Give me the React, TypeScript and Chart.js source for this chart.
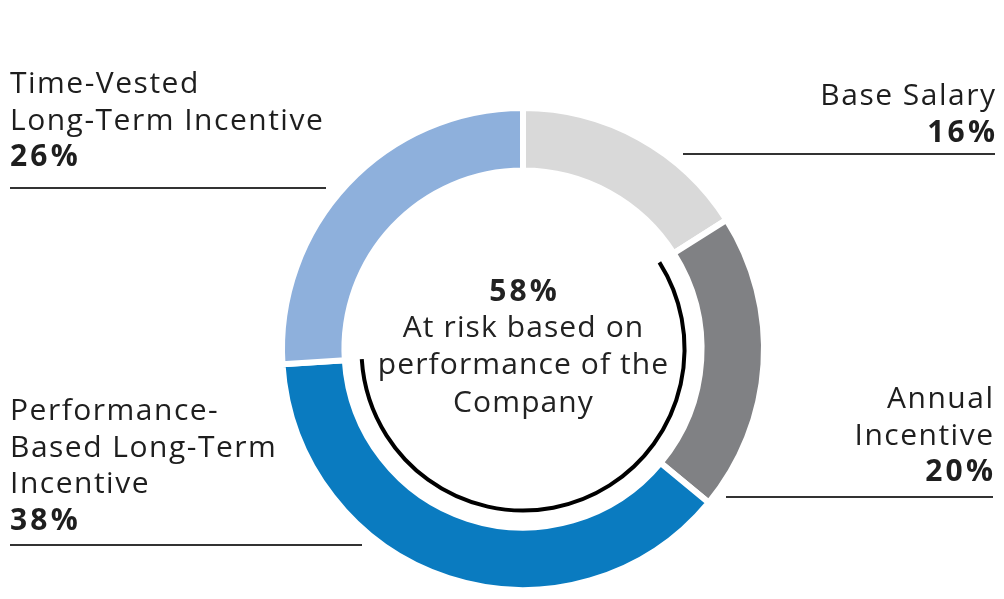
import React, { useEffect, useRef } from "react";
import { Chart, registerables } from "chart.js";
Chart.register(...registerables);

const categories = [
  "Base Salary",
  "Annual Incentive",
  "Performance-Based Long-Term Incentive",
  "Time-Vested Long-Term Incentive",
];
const values = [16, 20, 38, 26];
const colors = ["#d9d9d9", "#808184", "#0a7bc0", "#8eb0dc"];
const labelLines = [
  ["Base Salary"],
  ["Annual", "Incentive"],
  ["Performance-", "Based Long-Term", "Incentive"],
  ["Time-Vested", "Long-Term Incentive"],
];
const atRiskIndices = [1, 2];
const centerValue = "58%";
const centerLines = ["At risk based on", "performance of the", "Company"];

const FONT = '"Open Sans", "DejaVu Sans", sans-serif';
const TEXT = "#1e1e1e";

// label placement (layout only)
const labelLayout = [
  { align: "right", x: 995, y: 105, ruleY: 154, ruleX0: 683, ruleX1: 995 },
  { align: "right", x: 993, y: 408, ruleY: 497, ruleX0: 726, ruleX1: 993 },
  { align: "left", x: 10, y: 420, ruleY: 545, ruleX0: 10, ruleX1: 362 },
  { align: "left", x: 10, y: 93, ruleY: 188, ruleX0: 10, ruleX1: 326 },
];

const NORMAL_LS = 1.5;
const CENTER_LS = 1.1;
const BOLD_LS = 3.2;

function drawText(ctx: any, text: string, x: number, y: number, align: string, ls: number) {
  ctx.letterSpacing = ls + "px";
  ctx.textAlign = align;
  let dx = 0;
  if (align === "right") dx = ls;
  else if (align === "center") dx = ls / 2;
  ctx.fillText(text, x + dx, y);
  ctx.letterSpacing = "0px";
}

const annotationsPlugin = {
  id: "annotations",
  afterDatasetsDraw(chart: any) {
    const ctx = chart.ctx;
    const meta = chart.getDatasetMeta(0);
    const first = meta.data[atRiskIndices[0]];
    const last = meta.data[atRiskIndices[atRiskIndices.length - 1]];
    const cx = first.x;
    const cy = first.y;
    ctx.save();
    // at-risk arc
    ctx.beginPath();
    ctx.arc(cx, cy, first.innerRadius - 17, first.startAngle, last.endAngle);
    ctx.strokeStyle = "#000";
    ctx.lineWidth = 4;
    ctx.stroke();

    // center text
    ctx.fillStyle = "#222";
    ctx.textBaseline = "alphabetic";
    ctx.font = `bold 30px ${FONT}`;
    drawText(ctx, centerValue, cx, cy - 48, "center", BOLD_LS);
    ctx.font = `30px ${FONT}`;
    const offs = [-12, 25, 63];
    centerLines.forEach((t, i) => drawText(ctx, t, cx, cy + offs[i], "center", CENTER_LS));

    // side labels
    const lh = 36.5;
    labelLines.forEach((lines, i) => {
      const L = labelLayout[i];
      ctx.fillStyle = TEXT;
      ctx.font = `30px ${FONT}`;
      lines.forEach((t, j) => drawText(ctx, t, L.x, L.y + j * lh, L.align, NORMAL_LS));
      ctx.font = `bold 30px ${FONT}`;
      drawText(ctx, values[i] + "%", L.x, L.y + lines.length * lh, L.align, BOLD_LS);
      ctx.beginPath();
      ctx.moveTo(L.ruleX0, L.ruleY);
      ctx.lineTo(L.ruleX1, L.ruleY);
      ctx.strokeStyle = "#333";
      ctx.lineWidth = 2;
      ctx.stroke();
    });
    ctx.restore();
  },
};

export default function App() {
  const ref = useRef<HTMLCanvasElement>(null);
  useEffect(() => {
    if (!ref.current) return;
    const chart = new Chart(ref.current, {
      type: "doughnut",
      data: {
        labels: categories,
        datasets: [
          {
            data: values,
            backgroundColor: colors,
            borderColor: "#ffffff",
            borderWidth: 6,
            hoverOffset: 0,
          },
        ],
      },
      options: {
        animation: false,
        responsive: true,
        maintainAspectRatio: false,
        radius: 241,
        cutout: 183,
        layout: { padding: { left: 42, top: 99, right: 0, bottom: 0 } },
        plugins: { legend: { display: false }, tooltip: { enabled: false } },
      } as any,
      plugins: [annotationsPlugin],
    });
    return () => chart.destroy();
  }, []);
  return (
    <div style={{ position: "absolute", left: 0, top: 0, width: 1004, height: 599, background: "#fff" }}>
      <canvas ref={ref} />
    </div>
  );
}
